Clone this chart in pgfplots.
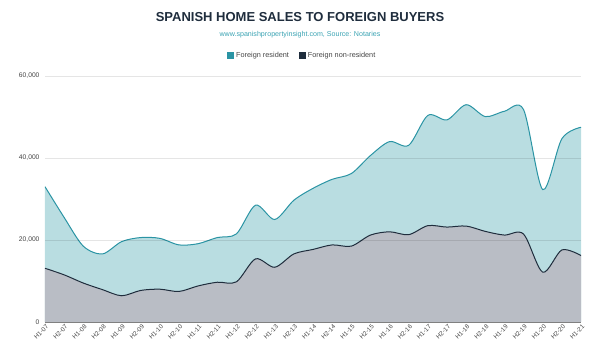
\documentclass[border=0pt]{standalone}
\usepackage{pgfplots}
\pgfplotsset{compat=1.18}
\usepackage{fontspec}
\setmainfont{Liberation Sans}
\definecolor{resline}{HTML}{2A94A4}
\definecolor{resfill}{HTML}{B9DDE1}
\definecolor{nonline}{HTML}{1F2D3D}
\definecolor{nonfill}{HTML}{B9BDC5}
\definecolor{titlec}{HTML}{1F2D3D}
\definecolor{subc}{HTML}{3BA3B3}
\definecolor{tickc}{HTML}{444444}
\pgfplotstableread{
x res non
0 33000 13100
1 25500 11500
2 18500 9500
3 16600 7900
4 19600 6400
5 20600 7700
6 20400 8000
7 18800 7450
8 19100 8800
9 20600 9700
10 21500 9800
11 28500 15400
12 25000 13350
13 29700 16600
14 32600 17700
15 34800 18800
16 36200 18500
17 40600 21200
18 44000 22000
19 43100 21300
20 50400 23500
21 49300 23150
22 53000 23400
23 50100 22100
24 51400 21200
25 51800 21450
26 32300 12150
27 44700 17570
28 47500 16200
}\datatable
\begin{document}
\begin{tikzpicture}
\useasboundingbox (0pt,0pt) rectangle (600pt,350pt);
\node[font=\bfseries\fontsize{13}{15}\selectfont, text=titlec] at (300pt,333pt) {SPANISH HOME SALES TO FOREIGN BUYERS};
\node[font=\fontsize{7.1}{8}\selectfont, text=subc] at (300pt,315pt) {www.spanishpropertyinsight.com, Source: Notaries};
\begin{axis}[
  at={(45pt,28pt)}, anchor=south west,
  scale only axis, width=536pt, height=246pt,
  xmin=0, xmax=28, ymin=0, ymax=60000,
  xtick={0,...,28},
  xticklabels={H1-07,H2-07,H1-08,H2-08,H1-09,H2-09,H1-10,H2-10,H1-11,H2-11,H1-12,H2-12,H1-13,H2-13,H1-14,H2-14,H1-15,H2-15,H1-16,H2-16,H1-17,H2-17,H1-18,H2-18,H1-19,H2-19,H1-20,H2-20,H1-21},
  ytick={0,20000,40000,60000},
  scaled y ticks=false,
  /pgf/number format/.cd, 1000 sep={,}, assume math mode=true, /pgfplots/.cd,
  x tick label style={rotate=45, anchor=north east, font=\fontsize{6.3}{7}\selectfont, text=tickc, inner sep=1pt, yshift=-1pt},
  y tick label style={font=\fontsize{6.7}{7}\selectfont, text=tickc, xshift=-2pt},
  major tick length=0pt,
  ymajorgrids, major grid style={black, opacity=0.1, line width=0.9pt},
  axis x line*=bottom, axis y line*=left,
  x axis line style={draw=black!50, line width=0.7pt, -},
  y axis line style={draw=none},
  axis on top,
  legend columns=2,
  legend style={draw=none, fill=none, at={(0.48,1.083)}, anchor=center, font=\fontsize{7.3}{8}\selectfont, text=tickc, /tikz/every even column/.append style={column sep=8pt}},
  legend image code/.code={\fill[#1, draw=none] (0pt,-3.5pt) rectangle (7pt,3.5pt);},
]
\addlegendimage{fill=resline}
\addlegendentry{Foreign resident}
\addlegendimage{fill=nonline}
\addlegendentry{Foreign non-resident}
\addplot[smooth, tension=0.5, draw=none, fill=resfill, forget plot] table[x=x, y=res] {\datatable} \closedcycle;
\addplot[smooth, tension=0.5, draw=resline, line width=1pt, forget plot] table[x=x, y=res] {\datatable};
\addplot[smooth, tension=0.5, draw=none, fill=nonfill, forget plot] table[x=x, y=non] {\datatable} \closedcycle;
\addplot[smooth, tension=0.5, draw=nonline, line width=1pt, forget plot] table[x=x, y=non] {\datatable};
\end{axis}
\end{tikzpicture}
\end{document}
